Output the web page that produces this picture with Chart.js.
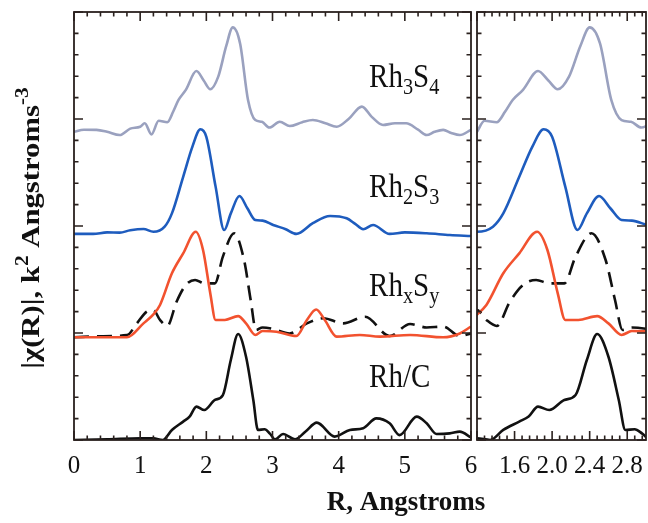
<!DOCTYPE html>
<html>
<head>
<meta charset="utf-8">
<script src="https://cdn.jsdelivr.net/npm/chart.js@4.4.1/dist/chart.umd.min.js"></script>
<style>
  html, body { margin: 0; padding: 0; background: #fff; }
  #wrap { position: relative; width: 648px; height: 523px; }
  #wrap canvas { position: absolute; top: 0; }
  #full { left: 0; }
  #zoom { left: 474px; }
</style>
</head>
<body>
<div id="wrap">
  <canvas id="full" width="648" height="523"></canvas>
  <canvas id="zoom" width="174" height="523"></canvas>
</div>
<script>
// |chi(R)| curves, already shifted up for the stacked layout (5 units per sample)
const rh3s4R   = [0, 0.15, 0.34, 0.5, 0.69, 0.85, 1.0, 1.07, 1.17, 1.28, 1.41, 1.5, 1.58, 1.69, 1.85, 1.96, 2.06, 2.18, 2.3, 2.4, 2.51, 2.63, 2.74, 2.84, 2.95, 3.11, 3.26, 3.45, 3.61, 3.8, 3.97, 4.15, 4.35, 4.5, 4.67, 4.85, 5.02, 5.2, 5.33, 5.45, 5.58, 5.7, 5.83, 6.0];
const rh3s4Chi = [14.4, 14.5, 14.49, 14.4, 14.25, 14.55, 14.64, 14.8, 14.28, 14.92, 14.85, 15.35, 15.89, 16.36, 17.24, 16.8, 16.39, 16.98, 18.4, 19.28, 18.53, 15.89, 14.95, 14.87, 14.6, 14.87, 14.67, 14.85, 14.95, 14.8, 14.64, 15.0, 15.58, 15.1, 14.72, 14.8, 14.8, 14.5, 14.25, 14.4, 14.49, 14.35, 14.25, 14.49];

const rh2s3R   = [0, 0.29, 0.5, 0.69, 0.85, 1.05, 1.2, 1.37, 1.48, 1.65, 1.79, 1.91, 2.0, 2.14, 2.27, 2.37, 2.5, 2.62, 2.74, 2.85, 3.01, 3.2, 3.36, 3.61, 3.87, 4.12, 4.25, 4.37, 4.52, 4.77, 5.0, 5.33, 5.68, 6.0];
const rh2s3Chi = [9.63, 9.63, 9.7, 9.69, 9.8, 9.86, 9.73, 9.97, 10.59, 12.3, 13.71, 14.52, 14.17, 11.84, 9.81, 10.59, 11.4, 10.83, 10.28, 10.25, 10.05, 9.85, 9.63, 10.13, 10.47, 10.36, 10.1, 9.85, 10.05, 9.63, 9.7, 9.66, 9.58, 9.53];

const rhxsyR   = [0, 0.4, 0.8, 1.05, 1.2, 1.3, 1.48, 1.65, 1.84, 1.95, 2.06, 2.14, 2.28, 2.48, 2.6, 2.74, 2.85, 3.06, 3.36, 3.52, 3.66, 3.79, 3.97, 4.32, 4.62, 5.08, 5.58, 5.83, 6.0];
const rhxsyChi = [4.8, 4.8, 4.8, 5.45, 5.87, 6.31, 7.79, 8.72, 9.73, 8.88, 6.85, 5.61, 5.61, 5.79, 5.45, 4.91, 5.09, 5.06, 4.86, 5.61, 6.1, 5.61, 4.83, 4.91, 4.83, 4.91, 4.8, 4.98, 5.3];

// second RhxSy trace (dashed)
const rhxsyFitR   = [0, 0.4, 0.8, 0.95, 1.1, 1.2, 1.3, 1.41, 1.55, 1.69, 1.83, 1.97, 2.13, 2.25, 2.42, 2.57, 2.67, 2.75, 2.85, 3.0, 3.26, 3.52, 3.77, 4.07, 4.4, 4.77, 5.08, 5.33, 5.58, 5.83, 6.0];
const rhxsyFitChi = [4.8, 4.85, 4.9, 5.45, 6.0, 6.07, 5.61, 5.33, 6.46, 7.24, 7.48, 7.32, 7.32, 8.57, 9.66, 8.41, 6.54, 5.14, 5.26, 5.2, 4.98, 5.45, 5.69, 5.45, 5.76, 4.86, 5.42, 5.26, 5.3, 4.86, 4.98];

const rhcR   = [0, 0.5, 1.0, 1.2, 1.34, 1.48, 1.65, 1.75, 1.85, 1.97, 2.13, 2.25, 2.37, 2.48, 2.6, 2.71, 2.78, 2.88, 2.96, 3.04, 3.16, 3.34, 3.5, 3.67, 3.94, 4.17, 4.37, 4.57, 4.77, 4.92, 5.18, 5.33, 5.48, 5.68, 5.83, 6.0];
const rhcChi = [0, 0.03, 0.08, 0.08, 0, 0.47, 0.86, 1.1, 1.56, 1.4, 1.87, 2.1, 3.74, 4.95, 3.89, 1.87, 0.47, 0.5, 0.3, 0.03, 0.28, 0.03, 0.4, 0.81, 0.16, 0.47, 0.55, 1.01, 0.78, 0.23, 1.09, 0.78, 0.28, 0.31, 0.39, 0.12];

const fullTicks = [0, 1, 2, 3, 4, 5, 6];
const zoomTicks = [1.6, 2.0, 2.4, 2.8];

// sample names, split into normal / subscript runs
const sampleNames = [
  [["Rh", 0], ["3", 1], ["S", 0], ["4", 1]],
  [["Rh", 0], ["2", 1], ["S", 0], ["3", 1]],
  [["Rh", 0], ["x", 1], ["S", 0], ["y", 1]],
  [["Rh/C", 0]]
];
const sampleNameY = [16.5, 11.35, 6.73, 2.48];

const SERIF = "'Liberation Serif', 'Times New Roman', serif";

function pts(xs, ys) {
  return xs.map((x, i) => ({ x: x, y: ys[i] }));
}

function makeDatasets() {
  const base = {
    showLine: true, pointRadius: 0, borderWidth: 2.6, fill: false,
    cubicInterpolationMode: "monotone", clip: 0
  };
  return [
    Object.assign({ data: pts(rh3s4R, rh3s4Chi), borderColor: "#9aa1bf" }, base),
    Object.assign({ data: pts(rh2s3R, rh2s3Chi), borderColor: "#1e5cbe" }, base),
    Object.assign({ data: pts(rhxsyR, rhxsyChi), borderColor: "#f2522f" }, base),
    Object.assign({ data: pts(rhxsyFitR, rhxsyFitChi), borderColor: "#111", borderDash: [15, 8] }, base),
    Object.assign({ data: pts(rhcR, rhcChi), borderColor: "#111" }, base)
  ];
}

// draws runs of text; mode 1 = subscript, 2 = superscript
function richWidth(ctx, runs, size, weight) {
  let w = 0;
  runs.forEach(([t, m]) => {
    ctx.font = weight + " " + (m ? size * 0.7 : size) + "px " + SERIF;
    w += ctx.measureText(t).width;
  });
  return w;
}
function drawRich(ctx, runs, x, y, size, weight) {
  runs.forEach(([t, m]) => {
    const s = m ? size * 0.7 : size;
    ctx.font = weight + " " + s + "px " + SERIF;
    let dy = 0;
    if (m === 1) dy = size * 0.2;
    if (m === 2) dy = -size * 0.42;
    ctx.fillText(t, x, y + dy);
    x += ctx.measureText(t).width;
  });
}

// box round the plot area with inward ticks on all four sides
const framePlugin = {
  id: "frame",
  afterDatasetsDraw(chart, args, o) {
    const { ctx, chartArea: a, scales: { x, y } } = chart;
    ctx.save();
    ctx.strokeStyle = "#2a211e";
    ctx.lineWidth = 1.6;
    ctx.beginPath();
    const seg = (x1, y1, x2, y2) => { ctx.moveTo(x1, y1); ctx.lineTo(x2, y2); };
    const n = Math.round((x.max - x.min) / o.xMinor);
    for (let i = 0; i <= n; i++) {
      const v = x.min + i * o.xMinor;
      const q = v / o.xMajor;
      const len = Math.abs(q - Math.round(q)) < 1e-6 ? 9 : 4.5;
      const px = x.getPixelForValue(v);
      seg(px, a.bottom, px, a.bottom - len);
      seg(px, a.top, px, a.top + len);
    }
    for (let v = y.min; v <= y.max; v += 1) {
      const len = v % 5 === 0 ? 9 : 4.5;
      const py = y.getPixelForValue(v);
      seg(a.left, py, a.left + len, py);
      seg(a.right, py, a.right - len, py);
    }
    ctx.stroke();
    ctx.lineWidth = 1.8;
    ctx.strokeRect(a.left, a.top, a.right - a.left, a.bottom - a.top);
    ctx.restore();
  }
};

// sample names and axis titles on the wide panel
const textPlugin = {
  id: "texts",
  afterDraw(chart) {
    const { ctx, scales: { x, y } } = chart;
    ctx.save();
    ctx.fillStyle = "#111";
    ctx.textBaseline = "alphabetic";
    sampleNames.forEach((runs, i) => {
      ctx.save();
      ctx.translate(x.getPixelForValue(4.46), y.getPixelForValue(sampleNameY[i]));
      ctx.scale(1, 1.15);
      drawRich(ctx, runs, 0, 0, 29, "normal");
      ctx.restore();
    });

    const yTitle = [["|\u03c7(R)|, k", 0], ["2", 2], [" Angstroms", 0], ["-3", 2]];
    ctx.save();
    ctx.translate(39, 228);
    ctx.rotate(-Math.PI / 2);
    ctx.scale(1.18, 1);
    const w = richWidth(ctx, yTitle, 26, "bold");
    drawRich(ctx, yTitle, -w / 2, 0, 26, "bold");
    ctx.restore();

    ctx.font = "bold 27px " + SERIF;
    ctx.textAlign = "center";
    ctx.fillText("R, Angstroms", 406, 510);
    ctx.restore();
  }
};

function makeChart(id, opts) {
  return new Chart(document.getElementById(id), {
    type: "scatter",
    data: { datasets: makeDatasets() },
    options: {
      responsive: false,
      animation: false,
      events: [],
      layout: { padding: opts.padding },
      plugins: {
        legend: { display: false },
        tooltip: { enabled: false },
        frame: { xMinor: opts.xMinor, xMajor: opts.xMajor }
      },
      scales: {
        x: {
          type: "linear",
          min: opts.min,
          max: opts.max,
          afterBuildTicks: (s) => { s.ticks = opts.ticks.map((v) => ({ value: v })); },
          afterFit: (s) => {
            s.height = 83;
            s.paddingLeft = 0;
            s.paddingRight = 0;
          },
          ticks: {
            font: { family: SERIF, size: 25 },
            color: "#111",
            padding: 11,
            maxRotation: 0,
            autoSkip: false,
            callback: opts.fmt
          },
          grid: { display: false, drawTicks: false },
          border: { display: false }
        },
        y: {
          type: "linear",
          min: 0,
          max: 20,
          afterFit: (s) => { s.width = opts.yWidth; },
          ticks: { display: false },
          grid: { display: false, drawTicks: false },
          border: { display: false }
        }
      }
    },
    plugins: opts.extra ? [framePlugin, textPlugin] : [framePlugin]
  });
}

makeChart("full", {
  min: 0, max: 6, ticks: fullTicks, xMinor: 0.2, xMajor: 1,
  fmt: (v) => String(v),
  padding: { top: 12, right: 177, left: 0, bottom: 0 },
  yWidth: 74, extra: true
});

makeChart("zoom", {
  min: 1.2, max: 3.0, ticks: zoomTicks, xMinor: 0.08, xMajor: 0.4,
  fmt: (v) => v.toFixed(1),
  padding: { top: 12, right: 2, left: 0, bottom: 0 },
  yWidth: 3, extra: false
});
</script>
</body>
</html>
